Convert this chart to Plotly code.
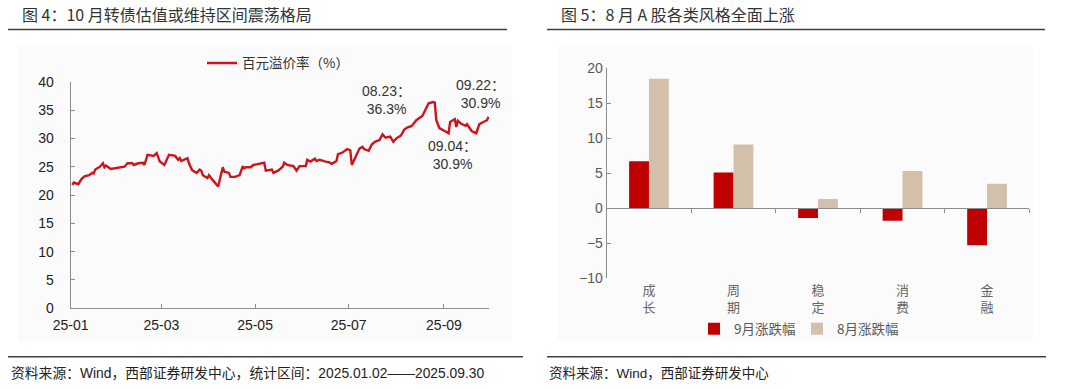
import plotly.graph_objects as go

W, H = 1080, 389

# ---------------- data: left chart ----------------
dates = ["2025-01-02","2025-01-03","2025-01-06","2025-01-08","2025-01-10","2025-01-13","2025-01-15","2025-01-16",
         "2025-01-17","2025-01-20","2025-01-22","2025-01-23","2025-01-24","2025-01-27","2025-02-05","2025-02-07",
         "2025-02-10","2025-02-11","2025-02-14","2025-02-17","2025-02-18","2025-02-20","2025-02-24","2025-02-26",
         "2025-02-28","2025-03-03","2025-03-06","2025-03-10","2025-03-12","2025-03-13","2025-03-14","2025-03-17",
         "2025-03-18","2025-03-19","2025-03-21","2025-03-24","2025-03-26","2025-03-27","2025-03-28","2025-03-31",
         "2025-04-01","2025-04-03","2025-04-07","2025-04-10","2025-04-11","2025-04-14","2025-04-15","2025-04-18",
         "2025-04-21","2025-04-23","2025-04-24","2025-04-25","2025-04-28","2025-04-30","2025-05-06","2025-05-07",
         "2025-05-08","2025-05-12","2025-05-13","2025-05-16","2025-05-19","2025-05-20","2025-05-22","2025-05-26",
         "2025-05-28","2025-05-30","2025-06-03","2025-06-04","2025-06-06","2025-06-09","2025-06-10","2025-06-12",
         "2025-06-16","2025-06-18","2025-06-20","2025-06-23","2025-06-24","2025-06-27","2025-06-30","2025-07-02",
         "2025-07-03","2025-07-07","2025-07-08","2025-07-10","2025-07-11","2025-07-14","2025-07-16","2025-07-18",
         "2025-07-21","2025-07-23","2025-07-25","2025-07-28","2025-07-30","2025-08-01","2025-08-04","2025-08-06",
         "2025-08-08","2025-08-11","2025-08-12","2025-08-14","2025-08-18","2025-08-19","2025-08-21","2025-08-22",
         "2025-08-25","2025-08-26","2025-08-27","2025-08-28","2025-08-29","2025-09-02","2025-09-04","2025-09-05",
         "2025-09-08","2025-09-09","2025-09-10","2025-09-12","2025-09-15","2025-09-16","2025-09-18","2025-09-19",
         "2025-09-22","2025-09-24","2025-09-26","2025-09-29","2025-09-30"]
premium = [21.8,22.2,21.9,22.8,23.3,23.5,23.9,23.8,
           24.5,25.0,25.6,24.9,25.2,24.6,25.0,25.6,
           25.6,25.3,25.6,25.7,25.3,27.1,26.9,27.4,
           25.9,25.3,27.1,26.9,26.2,26.5,26.0,26.4,
           26.5,25.6,24.4,23.9,24.5,24.3,23.5,23.0,
           23.5,22.8,21.5,24.9,24.1,23.9,23.2,23.2,
           23.5,25.1,24.7,24.9,24.9,25.3,25.6,25.7,
           24.3,24.5,23.9,24.3,25.0,25.7,25.3,25.1,
           24.3,25.1,25.1,26.2,25.9,26.4,26.0,26.2,
           25.9,25.8,25.5,26.0,27.2,27.5,28.1,27.9,
           25.3,27.4,28.2,28.5,28.1,27.8,28.9,29.4,
           29.7,30.7,30.1,30.3,29.4,30.0,30.5,31.5,
           31.9,32.2,32.6,33.2,34.0,34.6,35.6,36.2,
           36.4,36.3,33.2,32.3,31.8,31.2,30.9,32.9,
           33.4,32.0,33.1,32.6,32.2,32.5,31.8,31.3,
           30.9,32.5,32.8,33.2,33.8]
line_name = "百元溢价率（%）"
month_ticks = ["2025-01-01", "2025-03-01", "2025-05-01", "2025-07-01", "2025-09-01"]
month_labels = ["25-01", "25-03", "25-05", "25-07", "25-09"]

# ---------------- data: right chart ----------------
categories = ["成<br>长", "周<br>期", "稳<br>定", "消<br>费", "金<br>融"]
sep_change = [6.7, 5.1, -1.4, -1.8, -5.3]
aug_change = [18.5, 9.1, 1.3, 5.3, 3.5]
sep_name = "9月涨跌幅"
aug_name = "8月涨跌幅"

FONT = "Liberation Sans, Arial, Noto Sans CJK SC, sans-serif"
CJK = "Noto Sans CJK SC, Liberation Sans, sans-serif"
AXC = "#8c8c8c"
RED_LINE = "#D0121B"
RED_BAR = "#C00000"
TAN_BAR = "#D3C0AB"

def px(x):
    return x / W

def py(y):
    return 1 - y / H

fig = go.Figure()

fig.add_trace(go.Scatter(
    x=dates, y=premium, mode="lines", name=line_name,
    line=dict(color=RED_LINE, width=2.4),
    xaxis="x", yaxis="y", legend="legend"))

fig.add_trace(go.Bar(
    x=categories, y=sep_change, name=sep_name, marker=dict(color=RED_BAR, line=dict(width=0)),
    xaxis="x2", yaxis="y2", legend="legend2", legendwidth=58))
fig.add_trace(go.Bar(
    x=categories, y=aug_change, name=aug_name, marker=dict(color=TAN_BAR, line=dict(width=0)),
    xaxis="x2", yaxis="y2", legend="legend2", legendwidth=72))

# helper (invisible) trace so the zero-line tick axis renders
fig.add_trace(go.Scatter(x=[0], y=[0], xaxis="x3", yaxis="y2", mode="markers",
                         marker=dict(opacity=0), showlegend=False, hoverinfo="skip"))

fig.update_layout(
    template="none",
    width=W, height=H, autosize=False,
    margin=dict(l=0, r=0, t=0, b=0, pad=0, autoexpand=False),
    paper_bgcolor="white", plot_bgcolor="rgba(0,0,0,0)",
    font=dict(family=FONT, size=14, color="#333333"),
    barmode="group", bargap=0.53, bargroupgap=0,
    showlegend=True,
    xaxis=dict(
        domain=[px(70.7), px(489.3)], anchor="y", type="date", automargin=False,
        range=["2025-01-01", "2025-09-30 12:00"],
        tickvals=month_ticks, ticktext=month_labels,
        ticks="inside", ticklen=4, tickcolor=AXC, ticklabelstandoff=4,
        showline=True, linecolor=AXC, linewidth=1,
        showgrid=False, zeroline=False,
        tickfont=dict(size=14, color="#222222", family=FONT)),
    yaxis=dict(
        domain=[py(308.3), py(81.7)], anchor="x", automargin=False,
        range=[0, 40], dtick=5, tick0=0,
        ticks="inside", ticklen=4, tickcolor=AXC, ticklabelstandoff=13,
        showline=True, linecolor=AXC, linewidth=1,
        showgrid=False, zeroline=False,
        tickfont=dict(size=14, color="#222222", family=FONT)),
    xaxis2=dict(
        domain=[px(606.7), px(1029.3)], anchor="y2", type="category", automargin=False,
        showline=False, ticks="", showgrid=False, zeroline=False, ticklabelstandoff=3,
        tickfont=dict(size=13, color="#666666", family=CJK)),
    yaxis2=dict(
        domain=[py(278.0), py(68.3)], anchor="x2", automargin=False,
        range=[-10, 20], dtick=5, tick0=0,
        ticks="inside", ticklen=4, tickcolor=AXC, ticklabelstandoff=0,
        showline=True, linecolor=AXC, linewidth=1,
        showgrid=False, zeroline=False,
        tickfont=dict(size=14, color="#595959", family=FONT)),
    xaxis3=dict(
        overlaying="x2", anchor="free", position=py(207.7), automargin=False,
        range=[-0.5, 4.5], tickvals=[0.5, 1.5, 2.5, 3.5, 4.5],
        ticks="outside", ticklen=4, tickcolor=AXC,
        showline=True, linecolor=AXC, linewidth=1,
        showticklabels=False, showgrid=False, zeroline=False),
    legend=dict(
        x=px(202), y=py(63.3), xanchor="left", yanchor="middle",
        orientation="h", bgcolor="rgba(0,0,0,0)",
        font=dict(size=13.5, color="#333333", family=CJK)),
    legend2=dict(
        x=px(694), y=py(329), xanchor="left", yanchor="middle",
        orientation="h", bgcolor="rgba(0,0,0,0)", itemwidth=30, tracegroupgap=0,
        font=dict(size=13.5, color="#595959", family=CJK)),
)

shapes = []
# faint panel backgrounds
shapes.append(dict(type="rect", xref="paper", yref="paper", x0=px(18), x1=px(512), y0=py(341), y1=py(46),
                   fillcolor="#fbfbfb", line=dict(width=0), layer="below"))
shapes.append(dict(type="rect", xref="paper", yref="paper", x0=px(557), x1=px(1033), y0=py(340), y1=py(46),
                   fillcolor="#fbfbfb", line=dict(width=0), layer="below"))
# rules
for x0, x1 in [(8, 507), (547, 1045)]:
    shapes.append(dict(type="line", xref="paper", yref="paper", x0=px(x0), x1=px(x1), y0=py(29.5), y1=py(29.5),
                       line=dict(color="#404040", width=1.5)))
for x0, x1 in [(8, 523), (547, 1046)]:
    shapes.append(dict(type="line", xref="paper", yref="paper", x0=px(x0), x1=px(x1), y0=py(356.7), y1=py(356.7),
                       line=dict(color="#404040", width=1.5)))
fig.update_layout(shapes=shapes)

ann = []
ann.append(dict(text="图 4：10 月转债估值或维持区间震荡格局", x=px(20), y=py(14), xref="paper", yref="paper",
                xanchor="left", yanchor="middle", showarrow=False,
                font=dict(size=16, color="#333333", family=CJK)))
ann.append(dict(text="图 5：8 月 A 股各类风格全面上涨", x=px(559), y=py(14), xref="paper", yref="paper",
                xanchor="left", yanchor="middle", showarrow=False,
                font=dict(size=16, color="#333333", family=CJK)))
ann.append(dict(text="资料来源：Wind，西部证券研发中心，统计区间：2025.01.02——2025.09.30", x=px(9), y=py(373),
                xref="paper", yref="paper", xanchor="left", yanchor="middle", showarrow=False,
                font=dict(size=13.8, color="#222222", family=FONT)))
ann.append(dict(text="资料来源：Wind，西部证券研发中心", x=px(547), y=py(373),
                xref="paper", yref="paper", xanchor="left", yanchor="middle", showarrow=False,
                font=dict(size=13.5, color="#222222", family=FONT)))
# callouts
for txt, cx, cy in [("08.23：<br>36.3%", 386, 100), ("09.22：<br>30.9%", 480, 94), ("09.04：<br>30.9%", 452, 155)]:
    ann.append(dict(text=txt, x=px(cx), y=py(cy), xref="paper", yref="paper",
                    xanchor="center", yanchor="middle", showarrow=False, align="center",
                    font=dict(size=14, color="#333333", family=FONT)))
fig.update_layout(annotations=ann)

fig.write_html("out.html",
               config={"displayModeBar": False},
               post_script="document.body.style.margin='0px';document.body.style.overflow='hidden';")
